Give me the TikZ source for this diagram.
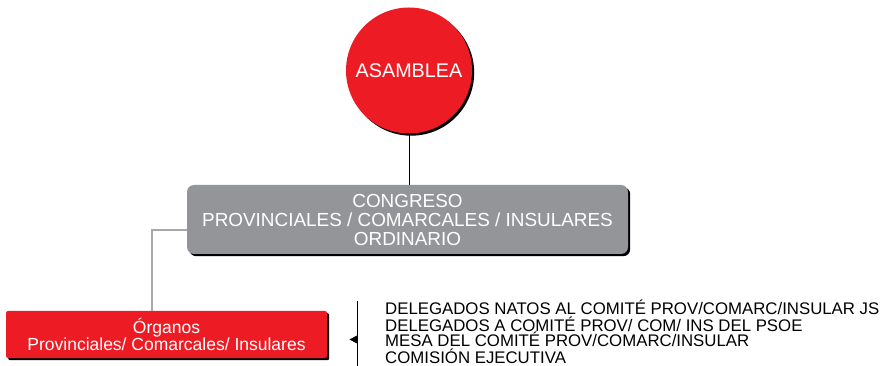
\documentclass[tikz,border=0pt]{standalone}
\usepackage{fontspec}
\setmainfont{Liberation Sans}
\definecolor{psred}{HTML}{ED1C24}
\definecolor{psgray}{HTML}{939598}
\definecolor{linegray}{HTML}{A7A9AC}
\begin{document}
\begin{tikzpicture}[x=1pt,y=-1pt,
  shadowed/.style={preaction={fill=black,transform canvas={shift={(2.2pt,-2.2pt)}}}},
  listtext/.style={anchor=base west,inner sep=0pt,font=\fontsize{16.8}{16}\selectfont}]
\useasboundingbox (0,0) rectangle (887,366);
% circle
\node[circle,minimum size=126pt,inner sep=0pt,fill=psred,shadowed,text=white,
  font=\fontsize{19.8}{20}\selectfont] (asam) at (409,70.5) {ASAMBLEA};
% gray box
\node[rectangle,rounded corners=7pt,minimum width=441pt,minimum height=69pt,inner sep=0pt,
  fill=psgray,shadowed,text=white,align=center,
  font=\fontsize{18.9}{19}\selectfont] (cong) at (407.5,219.5)
  {CONGRESO\\PROVINCIALES / COMARCALES / INSULARES\\ORDINARIO};
% red box
\node[rectangle,rounded corners=2pt,minimum width=321pt,minimum height=47pt,inner sep=0pt,
  fill=psred,shadowed,text=white,align=center,
  font=\fontsize{17.5}{16}\selectfont] (org) at (166.5,334.5)
  {Órganos\\Provinciales/ Comarcales/ Insulares};
% connectors
\draw[black,line width=0.9pt] (asam.south) -- (cong.north -| asam.south);
\coordinate (cl) at (cong.west |- 0,230);
\draw[linegray,line width=1.5pt] (cl) -- (152,230) -- (152,311);
% bracket and arrow
\coordinate (vt) at (357,301);
\coordinate (vb) at (357,368);
\draw[black,line width=0.8pt] (vt) -- (vb);
\fill[black] (357,335.5) -- (349.5,339.5) -- (357,343.5) -- cycle;
% list
\node[listtext] (l1) at (385,315) {DELEGADOS NATOS AL COMITÉ PROV/COMARC/INSULAR JS};
\node[listtext] (l2) at (385,331) {DELEGADOS A COMITÉ PROV/ COM/ INS DEL PSOE};
\node[listtext] (l3) at (385,347) {MESA DEL COMITÉ PROV/COMARC/INSULAR};
\node[listtext] (l4) at (385,363) {COMISIÓN EJECUTIVA};
\end{tikzpicture}
\end{document}
